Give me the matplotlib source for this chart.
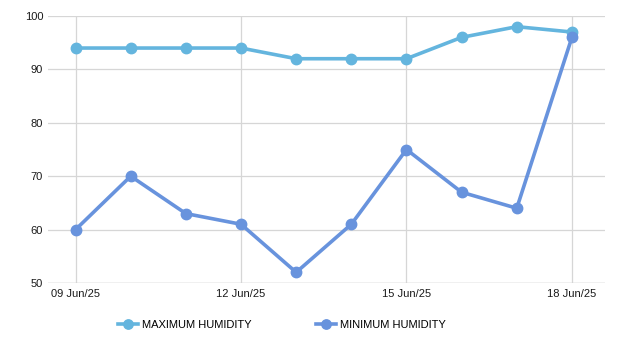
import numpy as np
import matplotlib.pyplot as plt

dates = ["09 Jun/25", "10 Jun/25", "11 Jun/25", "12 Jun/25", "13 Jun/25",
         "14 Jun/25", "15 Jun/25", "16 Jun/25", "17 Jun/25", "18 Jun/25"]
max_humidity = [94, 94, 94, 94, 92, 92, 92, 96, 98, 97]
min_humidity = [60, 70, 63, 61, 52, 61, 75, 67, 64, 96]

plt.rcParams['font.family'] = ['Liberation Sans', 'DejaVu Sans']

fig = plt.figure(figsize=(6.2, 3.48), dpi=100)
ax = fig.add_axes([48/620, 1 - 283/348, (605 - 48)/620, (283 - 16)/348])

x = np.arange(len(dates))
ax.plot(x, max_humidity, color="#64b5de", lw=2.6, marker="o", ms=7.5, label="MAXIMUM HUMIDITY", zorder=3)
ax.plot(x, min_humidity, color="#6893dd", lw=2.6, marker="o", ms=7.5, label="MINIMUM HUMIDITY", zorder=3)

ax.set_xlim(-0.5, 9.6)
ax.set_ylim(50, 100)
ax.set_yticks(range(50, 101, 10))
ax.set_xticks(x[::3])
ax.set_xticklabels(dates[::3])

for s in ax.spines.values():
    s.set_visible(False)
ax.grid(True, color="#d6d6d6", lw=0.9)
ax.set_axisbelow(True)
ax.tick_params(axis="y", length=0, labelsize=8, pad=3.5, labelcolor="#1a1a1a")
ax.tick_params(axis="x", length=0, labelsize=8, pad=4, labelcolor="#1a1a1a")
ax.axhline(50, color="#cccccc", lw=1, zorder=1)

ax.legend(loc="upper center", bbox_to_anchor=(0.42, -0.1), ncol=2, frameon=False,
          fontsize=8, handlelength=1.8, columnspacing=5.8, handletextpad=0.35,
          markerscale=0.9)

fig.savefig("out.png", dpi=100)
